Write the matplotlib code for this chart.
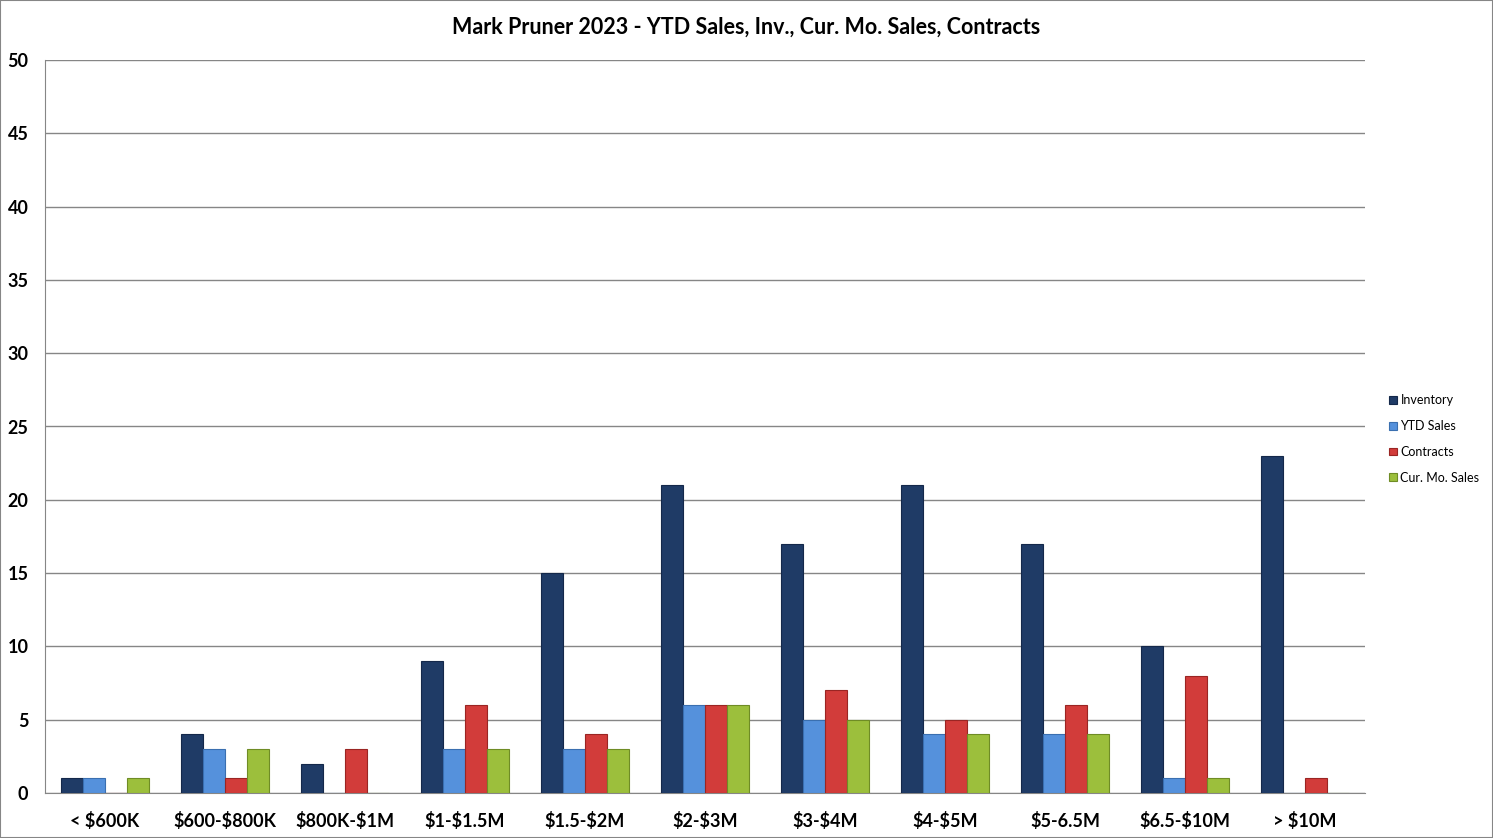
import matplotlib.pyplot as plt
import numpy as np
from matplotlib.patches import Rectangle

categories = ['< $600K', '$600-$800K', '$800K-$1M', '$1-$1.5M', '$1.5-$2M', '$2-$3M',
              '$3-$4M', '$4-$5M', '$5-6.5M', '$6.5-$10M', '> $10M']
inventory = [1, 4, 2, 9, 15, 21, 17, 21, 17, 10, 23]
ytd_sales = [1, 3, 0, 3, 3, 6, 5, 4, 4, 1, 0]
contracts = [0, 1, 3, 6, 4, 6, 7, 5, 6, 8, 1]
cur_mo_sales = [1, 3, 0, 3, 3, 6, 5, 4, 4, 1, 0]

series = [
    ('Inventory', inventory, '#1f3b66', '#14284a'),
    ('YTD Sales', ytd_sales, '#5591dc', '#3a6fb0'),
    ('Contracts', contracts, '#d23c3a', '#9a2523'),
    ('Cur. Mo. Sales', cur_mo_sales, '#9cbf3c', '#6f8c25'),
]

plt.rcParams['font.family'] = ['Lato', 'DejaVu Sans']
plt.rcParams['text.parse_math'] = False  # ドル記号をそのまま表示

fig = plt.figure(figsize=(14.93, 8.38), dpi=100)
ax = fig.add_axes([45 / 1493, 45 / 838, 1320 / 1493, 733 / 838])

x = np.arange(len(categories))
w = 0.183
for i, (name, vals, color, edge) in enumerate(series):
    offs = (i - 1.5) * w
    ax.bar(x + offs, vals, w, color=color, edgecolor=edge, linewidth=0.8,
           label=name, zorder=3)

ax.set_xlim(-0.5, len(categories) - 0.5)
ax.set_ylim(0, 50)
ax.set_yticks(range(0, 51, 5))
ax.yaxis.grid(True, color='#868686', linewidth=1, zorder=0)
ax.set_xticks(x)
ax.set_xticklabels(categories, fontsize=13, fontweight='bold')
for lbl in ax.get_yticklabels():
    lbl.set_fontsize(13)
    lbl.set_fontweight('bold')
ax.tick_params(axis='both', length=0)
ax.tick_params(axis='x', pad=14)
ax.tick_params(axis='y', pad=12)
for s in ['top', 'right']:
    ax.spines[s].set_visible(False)
ax.spines['left'].set_color('#868686')
ax.spines['bottom'].set_color('#868686')

fig.text(0.5, 1 - 27 / 838, 'Mark Pruner 2023 - YTD Sales, Inv., Cur. Mo. Sales, Contracts',
         ha='center', va='center', fontsize=15.5, fontweight='bold')

fig.legend(loc='center left', bbox_to_anchor=(1378 / 1493, 1 - 439 / 838), frameon=False,
           fontsize=9, handlelength=0.6, handleheight=0.6, handletextpad=0.3,
           labelspacing=1.1)

fig.patches.append(Rectangle((0, 0), 1, 1, transform=fig.transFigure, fill=False,
                             edgecolor='#868686', linewidth=1.5))

fig.savefig('out.png', dpi=100)
